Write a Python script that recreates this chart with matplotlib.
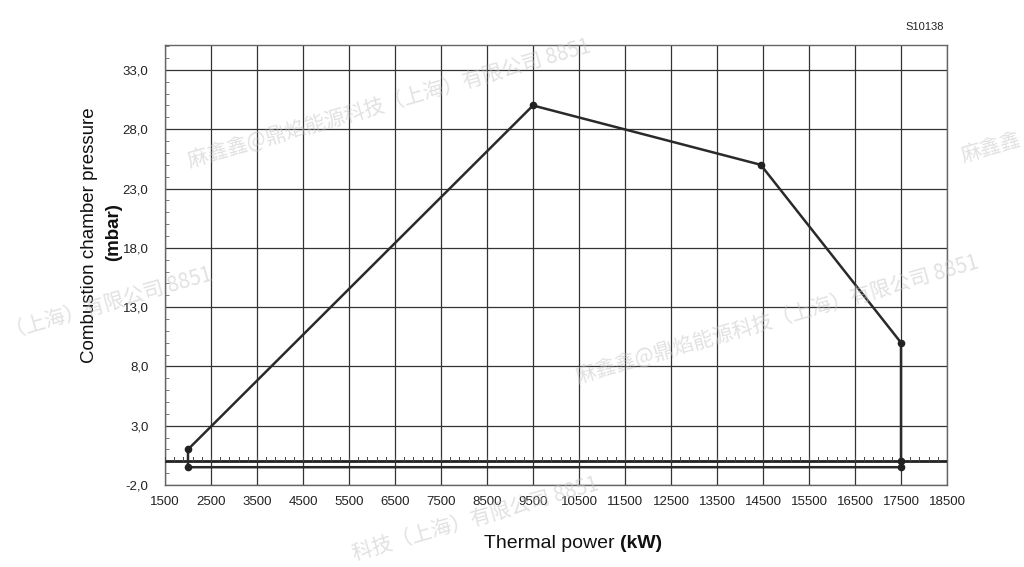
import matplotlib
matplotlib.use("Agg")
import matplotlib.pyplot as plt
import numpy as np

# Data
power_kw = [2000, 2000, 9500, 14450, 17500, 17500, 2000]
pressure_mbar = [-0.5, 1.0, 30.0, 25.0, 10.0, -0.5, -0.5]
marker_x = [2000, 2000, 9500, 14450, 17500, 17500, 17500]
marker_y = [-0.5, 1.0, 30.0, 25.0, 10.0, 0.0, -0.5]
x_ticks = list(range(1500, 18501, 1000))
y_ticks = [-2, 3, 8, 13, 18, 23, 28, 33]
y_tick_labels = ["-2,0", "3,0", "8,0", "13,0", "18,0", "23,0", "28,0", "33,0"]
code_label = "S10138"
watermark = "麻鑫鑫@鼎焰能源科技（上海）有限公司 8851"
watermark_left = "（上海）有限公司 8851"
watermark_bottom = "科技（上海）有限公司 8851"
watermark_right = "麻鑫鑫"

plt.rcParams['font.family'] = ['Liberation Sans', 'DejaVu Sans']

W, H = 1024, 567
fig = plt.figure(figsize=(10.24, 5.67), dpi=100)
ax = fig.add_axes([165/W, 1-485/H, (947-165)/W, (485-45)/H])

ax.set_xlim(1500, 18500)
ax.set_ylim(-2, 35.1)

ax.set_xticks(x_ticks)
ax.set_xticklabels([str(v) for v in x_ticks], fontsize=9.5, color='#222222')
ax.set_yticks(y_ticks)
ax.set_yticklabels(y_tick_labels, fontsize=9.5, color='#222222')
ax.set_yticks(np.arange(-2, 35.1, 1), minor=True)
ax.tick_params(axis='x', which='major', length=0, pad=8)
ax.tick_params(axis='y', which='major', length=0, pad=12)
ax.tick_params(axis='y', which='minor', length=3, direction='in', color='#666666')
ax.tick_params(axis='x', which='minor', length=0)

ax.grid(True, which='major', color='#333333', linewidth=0.9)
for s in ax.spines.values():
    s.set_color('#666666')
    s.set_linewidth(1.0)

# zero line with small ticks
ax.axhline(0, color='#222222', linewidth=2.0, zorder=3)
ticks_x = np.arange(1500, 18500, 200)
for tx in ticks_x:
    ax.plot([tx, tx], [0, 0.35], color='#444444', linewidth=0.7, zorder=3)

ax.plot(power_kw, pressure_mbar, color='#2a2a2a', linewidth=1.8, zorder=4)
ax.plot(marker_x, marker_y, linestyle='none', marker='o', markersize=4.5,
        color='#222222', zorder=5)

# labels
fig.text(620/W, 1-543/H, "Thermal power ", ha='right', va='center', fontsize=14, color='#111111')
fig.text(620/W, 1-543/H, "(kW)", ha='left', va='center', fontsize=14, fontweight='bold', color='#111111')
fig.text(89/W, 1-235/H, "Combustion chamber pressure", rotation=90, ha='center', va='center',
         fontsize=13.5, color='#111111')
fig.text(114/W, 1-232/H, "(mbar)", rotation=90, ha='center', va='center',
         fontsize=13.5, fontweight='bold', color='#111111')
fig.text(925/W, 1-27/H, code_label, ha='center', va='center', fontsize=8, color='#222222')

# watermarks
wm_kw = dict(family=['Noto Sans CJK SC', 'DejaVu Sans'], fontsize=14.8, color='#c4c4c4',
             alpha=0.5, rotation=16, rotation_mode='anchor', va='baseline', zorder=10)
fig.text(190/W, 1-168/H, watermark, ha='left', **wm_kw)
fig.text(578/W, 1-384/H, watermark, ha='left', **wm_kw)
fig.text(214/W, 1-280/H, watermark_left, ha='right', **wm_kw)
fig.text(600/W, 1-490/H, watermark_bottom, ha='right', **wm_kw)
fig.text(963/W, 1-162/H, watermark_right, ha='left', **wm_kw)

fig.savefig("out.png", dpi=100)
